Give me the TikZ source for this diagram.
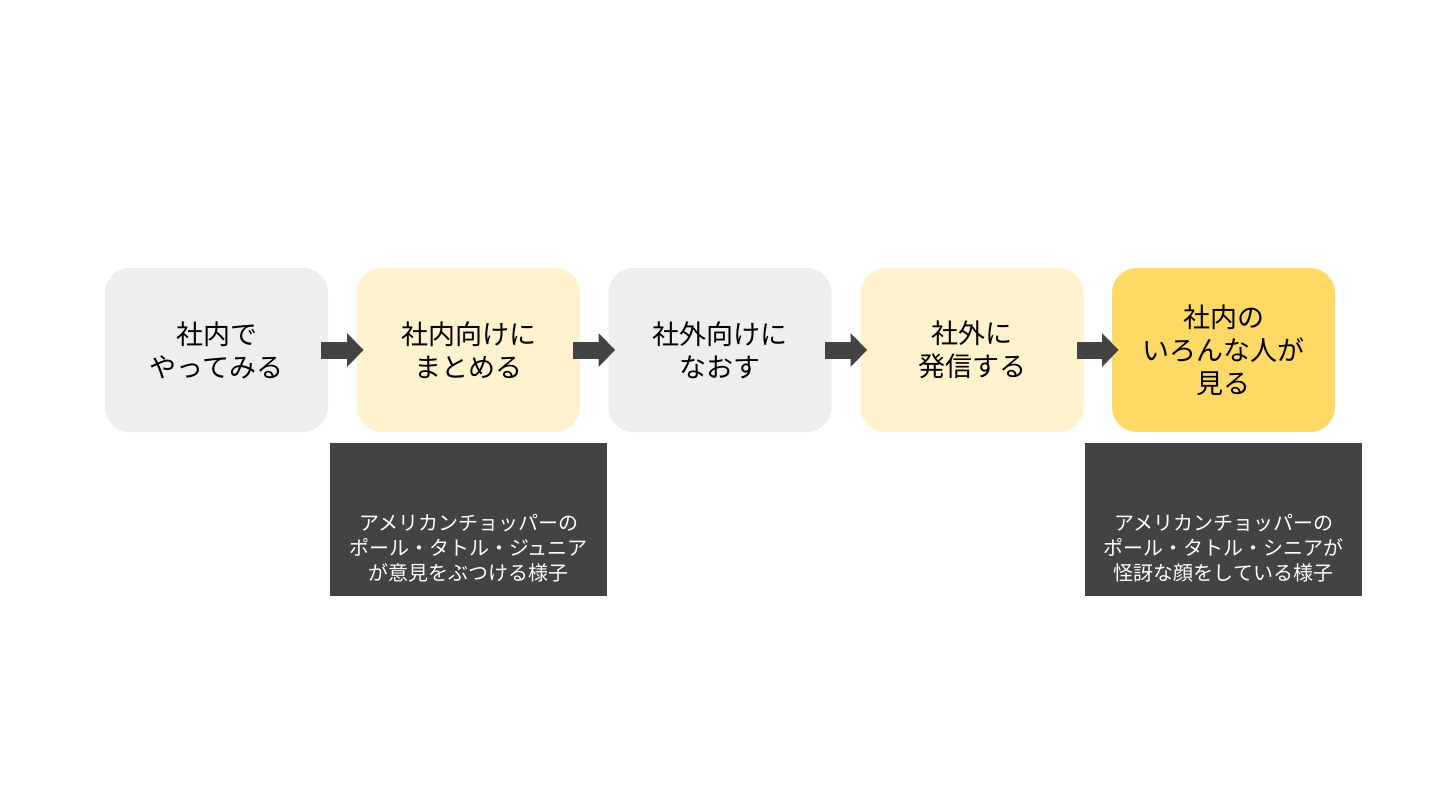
\documentclass[tikz,border=0pt]{standalone}
\usepackage{fontspec}
\setmainfont{Noto Sans CJK JP}
\usetikzlibrary{arrows.meta,calc}
\definecolor{grayfill}{HTML}{EEEEEE}
\definecolor{lightyellow}{HTML}{FFF2CC}
\definecolor{gold}{HTML}{FFD966}
\definecolor{darkgray}{HTML}{434343}
\tikzset{
  stepbox/.style={rectangle, rounded corners=12.5pt, minimum width=111.5pt, minimum height=82pt,
    inner sep=0pt, align=center, text=black, font=\fontsize{13.5}{16.5}\selectfont},
  notebox/.style={rectangle, fill=darkgray, minimum width=138.5pt, minimum height=76.5pt, inner sep=0pt},
  notetext/.style={text=white, align=center, inner sep=0pt, font=\fontsize{10}{12.5}\selectfont},
  flowarrow/.style={darkgray, line width=8.5pt, -{Triangle[length=8.3pt,width=16.5pt]}},
}
\begin{document}
\begin{tikzpicture}[x=0.5pt,y=-0.5pt]
\useasboundingbox[fill=white] (0,0) rectangle (1440,810);
\node[stepbox, fill=grayfill] (b1) at (216.5,350) {社内で\\やってみる};
\node[stepbox, fill=lightyellow] (b2) at (468.5,350) {社内向けに\\まとめる};
\node[stepbox, fill=grayfill] (b3) at (720,350) {社外向けに\\なおす};
\node[stepbox, fill=lightyellow] (b4) at (972,350) {社外に\\発信する};
\node[stepbox, fill=gold] (b5) at (1223.5,350) {社内の\\いろんな人が\\見る};
\draw[flowarrow] ($(b1.east)+(-7,0)$) -- ($(b2.west)+(7,0)$);
\draw[flowarrow] ($(b2.east)+(-7,0)$) -- ($(b3.west)+(7,0)$);
\draw[flowarrow] ($(b3.east)+(-7,0)$) -- ($(b4.west)+(7,0)$);
\draw[flowarrow] ($(b4.east)+(-7,0)$) -- ($(b5.west)+(7,0)$);
\node[notebox] (nA) at (468.5,519.5) {};
\node[notetext] (tA) at (468.5,548) {アメリカンチョッパーの\\ポール・タトル・ジュニア\\が意見をぶつける様子};
\node[notebox] (nB) at (1223.5,519.5) {};
\node[notetext] (tB) at (1223.5,548) {アメリカンチョッパーの\\ポール・タトル・シニアが\\怪訝な顔をしている様子};
\end{tikzpicture}
\end{document}
